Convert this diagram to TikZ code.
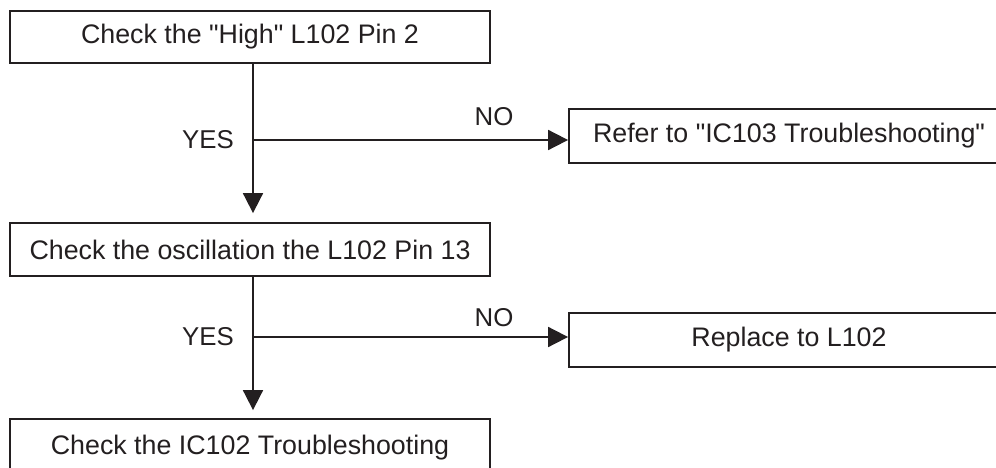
\documentclass[tikz,border=0pt]{standalone}
\usepackage{fontspec}
\setmainfont{Liberation Sans}
\newfontfamily\plainsans{Liberation Sans}
\usetikzlibrary{arrows.meta}
\definecolor{ink}{HTML}{231F20}
\begin{document}
\begin{tikzpicture}[x=1pt,y=-1pt,
  box/.style={draw=ink, line width=1.8pt, rectangle, inner sep=0pt, text=ink, font=\plainsans\fontsize{26.8}{32}\selectfont},
  conn/.style={draw=ink, line width=1.8pt},
  arr/.style={conn, -{Triangle[length=20pt,width=20pt]}},
  lbl/.style={text=ink, inner sep=0pt, font=\plainsans\fontsize{25.8}{30}\selectfont}]
\useasboundingbox (0,0) rectangle (996,468);
\clip (0,0) rectangle (996,468);
\node[box, minimum width=480pt, minimum height=52pt] (b1) at (250,37) {Check the "High" L102 Pin 2};
\node[box, minimum width=440pt, minimum height=54pt] (b2) at (789,136) {Refer to "IC103 Troubleshooting"};
\node[box, minimum width=480pt, minimum height=53pt] (b3) at (250,249.5) {Check the oscillation the L102 Pin 13};
\node[box, minimum width=440pt, minimum height=54pt] (b4) at (789,340) {Replace to L102};
\node[box, minimum width=480pt, minimum height=58pt] (b5) at (250,448) {Check the IC102 Troubleshooting};
\coordinate (j1) at (253,140);
\coordinate (j2) at (253,337);
\draw[conn] (j1 |- b1.south) -- (j1);
\draw[arr, shorten >=9pt] (j1) -- (j1 |- b3.north);
\draw[arr] (j1) -- (j1 -| b2.west);
\draw[conn] (j2 |- b3.south) -- (j2);
\draw[arr, shorten >=8pt] (j2) -- (j2 |- b5.north);
\draw[arr] (j2) -- (j2 -| b4.west);
\node[lbl] (y1) at (208,140) {YES};
\node[lbl] (n1) at (494,117) {NO};
\node[lbl] (y2) at (208,337) {YES};
\node[lbl] (n2) at (494,318) {NO};
\end{tikzpicture}
\end{document}
